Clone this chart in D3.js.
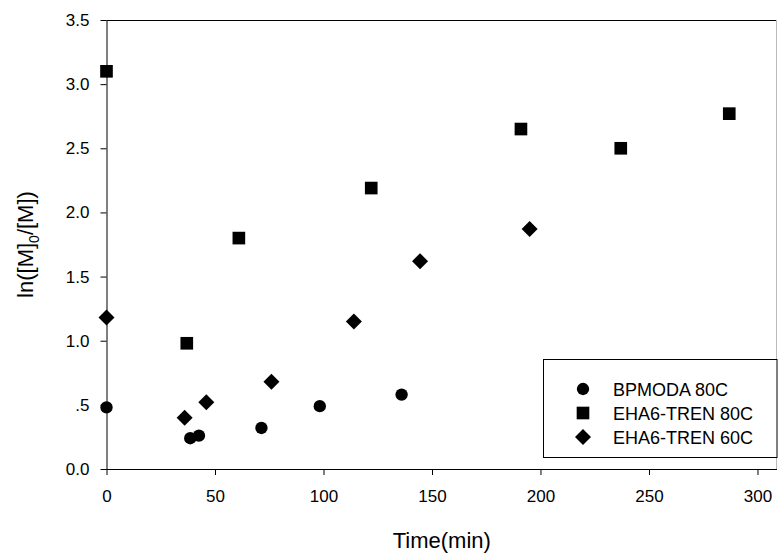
<!DOCTYPE html>
<html>
<head>
    <title>Kinetics plot</title>
    <script src="https://d3js.org/d3.v7.min.js"></script>
    <style>
        body { margin: 0; background: #fff; }
        text { font-family: "Liberation Sans", Arial, sans-serif; fill: #000; }
    </style>
</head>
<body>
    <div id="chart"></div>

    <script>
        // Data
        const bpmodaTime = [0, 38.6, 42.6, 71.4, 98.3, 136];
        const bpmodaLn = [0.48, 0.24, 0.26, 0.32, 0.49, 0.58];

        const tren80Time = [0, 37, 61, 122, 191, 237, 287];
        const tren80Ln = [3.10, 0.98, 1.80, 2.19, 2.65, 2.50, 2.77];

        const tren60Time = [0, 36, 46, 76, 114, 144.5, 195];
        const tren60Ln = [1.18, 0.40, 0.52, 0.68, 1.15, 1.62, 1.87];

        const xTicks = [0, 50, 100, 150, 200, 250, 300];
        const yTicks = [0, 0.5, 1.0, 1.5, 2.0, 2.5, 3.0, 3.5];
        const yTickLabels = ["0.0", ".5", "1.0", "1.5", "2.0", "2.5", "3.0", "3.5"];
        const seriesNames = ["BPMODA 80C", "EHA6-TREN 80C", "EHA6-TREN 60C"];

        const width = 778, height = 554;
        const margin = {left: 106.5, right: 1, top: 20, bottom: 85};

        const svg = d3.select("#chart").append("svg")
            .attr("width", width)
            .attr("height", height);

        const x = d3.scaleLinear().domain([0, 309]).range([margin.left, width - margin.right]);
        const y = d3.scaleLinear().domain([0, 3.5]).range([height - margin.bottom, margin.top]);

        // frame: top and right
        svg.append("line")
            .attr("x1", x(0)).attr("x2", width - margin.right)
            .attr("y1", y(3.5) + 0.5).attr("y2", y(3.5) + 0.5)
            .attr("stroke", "#000");
        svg.append("line")
            .attr("x1", width - margin.right - 0.5).attr("x2", width - margin.right - 0.5)
            .attr("y1", y(3.5)).attr("y2", y(0))
            .attr("stroke", "#bbb");

        // x axis
        const xAxis = svg.append("g")
            .attr("transform", `translate(0,${y(0)})`)
            .call(d3.axisBottom(x).tickValues(xTicks).tickSize(6).tickPadding(15).tickSizeOuter(0));
        xAxis.select(".domain").attr("d", `M${x(0)},0.5H${width - margin.right}`);

        // y axis
        svg.append("g")
            .attr("transform", `translate(${x(0)},0)`)
            .call(d3.axisLeft(y).tickValues(yTicks).tickSize(6).tickPadding(11).tickSizeOuter(0)
                .tickFormat((d, i) => yTickLabels[i]));

        svg.selectAll(".tick line").attr("stroke", "#000");
        svg.selectAll(".domain").attr("stroke", "#000");
        svg.selectAll(".tick text")
            .attr("font-size", 17)
            .attr("font-family", "Liberation Sans, Arial, sans-serif")
            .attr("fill", "#000");

        // axis titles
        svg.append("text")
            .attr("x", (x(0) + width - margin.right) / 2)
            .attr("y", 548)
            .attr("text-anchor", "middle")
            .attr("font-size", 22)
            .text("Time(min)");

        const yTitle = svg.append("text")
            .attr("transform", `translate(33,${(y(0) + y(3.5)) / 2}) rotate(-90)`)
            .attr("text-anchor", "middle")
            .attr("font-size", 22);
        yTitle.append("tspan").text("ln([M]");
        yTitle.append("tspan").attr("font-size", 14).attr("dy", 6).text("0");
        yTitle.append("tspan").attr("dy", -6).text("/[M])");

        // markers
        const shapes = [
            d3.symbol().type(d3.symbolCircle).size(120),
            d3.symbol().type(d3.symbolSquare).size(160),
            d3.symbol().type(d3.symbolSquare).size(128)
        ];
        const rotations = [0, 0, 45];
        const series = [
            bpmodaTime.map((t, i) => [t, bpmodaLn[i]]),
            tren80Time.map((t, i) => [t, tren80Ln[i]]),
            tren60Time.map((t, i) => [t, tren60Ln[i]])
        ];

        series.forEach((pts, s) => {
            svg.append("g").selectAll("path")
                .data(pts)
                .join("path")
                .attr("d", shapes[s])
                .attr("transform", d => `translate(${x(d[0])},${y(d[1])}) rotate(${rotations[s]})`)
                .attr("fill", "#000");
        });

        // legend
        const legend = svg.append("g");
        legend.append("rect")
            .attr("x", 543.5).attr("y", 359.5)
            .attr("width", width - 543.5 - 1).attr("height", 98)
            .attr("fill", "#fff")
            .attr("stroke", "#000");

        seriesNames.forEach((name, i) => {
            const cy = 389 + i * 24;
            legend.append("path")
                .attr("d", shapes[i])
                .attr("transform", `translate(583,${cy}) rotate(${rotations[i]})`)
                .attr("fill", "#000");
            legend.append("text")
                .attr("x", 613)
                .attr("y", cy + 6.5)
                .attr("font-size", 18)
                .text(name);
        });
    </script>
</body>
</html>
